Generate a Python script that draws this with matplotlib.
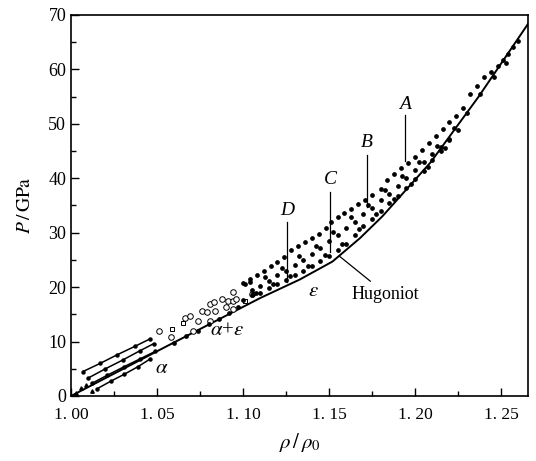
import matplotlib
matplotlib.use("Agg")
import matplotlib.pyplot as plt
from matplotlib.ticker import MultipleLocator, FuncFormatter

plt.rcParams['font.family'] = ['Liberation Serif', 'DejaVu Serif']
plt.rcParams['mathtext.fontset'] = 'stix'

# Hugoniot
hug_rho = [1.000, 1.056, 1.110, 1.133, 1.152, 1.168, 1.181, 1.209, 1.237, 1.266]
hug_p = [0.0, 9.2, 18.0, 21.4, 24.7, 29.0, 33.0, 42.9, 55.0, 68.5]

# alpha phase: four short release lines
a1_rho = [1.007, 1.017, 1.027, 1.037, 1.046]
a1_p = [4.5, 6.0, 7.6, 9.1, 10.5]
a2_rho = [1.010, 1.020, 1.030, 1.040, 1.048]
a2_p = [3.3, 5.0, 6.6, 8.3, 9.6]
a3_rho = [1.012, 1.021, 1.031, 1.040, 1.049]
a3_p = [2.3, 3.8, 5.4, 6.8, 8.2]
a4_rho = [1.015, 1.023, 1.031, 1.039, 1.046]
a4_p = [1.3, 2.7, 4.0, 5.4, 6.8]
a_extra_rho = [1.003, 1.006, 1.009, 1.012]
a_extra_p = [0.6, 1.5, 2.0, 0.9]

# mixed phase: open circles and squares
circ_rho = [1.051, 1.058, 1.066, 1.069, 1.071, 1.074, 1.076, 1.079, 1.081, 1.081,
            1.083, 1.084, 1.088, 1.090, 1.091, 1.094, 1.094, 1.094, 1.096, 1.105]
circ_p = [11.9, 10.8, 14.3, 14.7, 11.9, 13.7, 15.6, 15.4, 16.9, 13.7,
          17.2, 15.6, 17.8, 16.3, 17.4, 17.4, 19.1, 15.9, 17.8, 18.7]
sq_rho = [1.059, 1.065, 1.101]
sq_p = [12.3, 13.4, 17.4]

# filled dots on the Hugoniot in the mixed region
mix_rho = [1.060, 1.067, 1.074, 1.080, 1.086, 1.092, 1.097, 1.101, 1.104, 1.106]
mix_p = [9.8, 11.0, 12.0, 13.2, 14.2, 15.3, 16.3, 20.5, 21.0, 18.7]

# epsilon phase: bands of dots
up_rho = [1.100, 1.104, 1.108, 1.112, 1.116, 1.120, 1.124, 1.128, 1.132, 1.136,
          1.140, 1.144, 1.148, 1.151, 1.155, 1.159, 1.163, 1.167, 1.171, 1.175,
          1.180, 1.184, 1.188, 1.192, 1.196, 1.200, 1.204, 1.208, 1.212, 1.216,
          1.220, 1.224, 1.228, 1.232, 1.236, 1.240, 1.244, 1.248, 1.251, 1.254,
          1.257, 1.260]
up_p = [20.8, 21.5, 22.3, 23.0, 23.8, 24.6, 25.6, 26.8, 27.5, 28.3,
        29.0, 29.8, 30.8, 32.0, 32.8, 33.6, 34.4, 35.2, 36.0, 37.0,
        38.0, 39.6, 40.8, 41.8, 42.8, 44.0, 45.2, 46.5, 47.8, 49.0,
        50.3, 51.5, 53.0, 55.5, 57.0, 58.6, 59.5, 60.6, 61.8, 62.8,
        64.2, 65.3]
upmid_rho = [1.1125, 1.1225, 1.1325, 1.1425, 1.1525, 1.1625, 1.1725, 1.1825,
             1.1925, 1.2025, 1.2125, 1.2225, 1.2300, 1.2380, 1.2460, 1.2530]
upmid_p = [21.8, 23.6, 25.8, 27.6, 30.2, 32.8, 35.0, 37.9,
           40.4, 43.0, 46.0, 49.2, 52.0, 55.5, 58.6, 61.2]
mid_rho = [1.105, 1.110, 1.115, 1.120, 1.125, 1.130, 1.135, 1.140, 1.145, 1.150,
           1.155, 1.160, 1.165, 1.170, 1.175, 1.180, 1.185, 1.190, 1.195, 1.200,
           1.205, 1.210, 1.215, 1.220, 1.225]
mid_p = [19.5, 20.3, 21.2, 22.2, 23.0, 24.0, 25.0, 26.0, 27.2, 28.4,
         29.6, 30.8, 32.0, 33.4, 34.6, 36.0, 37.2, 38.6, 40.0, 41.5,
         43.0, 44.4, 45.8, 47.2, 48.8]
midlow_rho = [1.1075, 1.1175, 1.1275, 1.1375, 1.1475, 1.1575, 1.1675, 1.1775,
              1.1875, 1.1975, 1.2075, 1.2175]
midlow_p = [19.0, 20.5, 22.0, 23.8, 25.9, 28.0, 30.6, 33.5,
            36.2, 39.0, 42.0, 45.5]
low_rho = [1.100, 1.105, 1.110, 1.115, 1.120, 1.125, 1.130, 1.135, 1.140, 1.145,
           1.150, 1.155, 1.160, 1.165, 1.170, 1.175, 1.180, 1.185, 1.190, 1.195,
           1.200, 1.205, 1.210, 1.215, 1.220]
low_p = [17.6, 18.5, 19.0, 19.8, 20.6, 21.4, 22.2, 23.0, 23.9, 24.8,
         25.7, 26.8, 28.0, 29.6, 31.2, 32.6, 34.0, 35.4, 36.8, 38.2,
         39.8, 41.4, 43.4, 45.0, 47.0]

# labelled leader lines: name, rho, text P, line top, line bottom
lab_names = ['A', 'B', 'C', 'D']
lab_rho = [1.194, 1.172, 1.1506, 1.1256]
lab_text_p = [53.5, 46.5, 39.8, 34.0]
lab_top = [51.7, 44.3, 37.5, 32.0]
lab_bot = [43.1, 34.8, 26.5, 21.0]

fig = plt.figure(figsize=(5.36, 4.61), dpi=100)
ax = fig.add_axes([0.1325, 0.141, 0.8526, 0.8265])

ax.plot(hug_rho, hug_p, color='black', lw=1.4)

for r, p in [(a1_rho, a1_p), (a2_rho, a2_p), (a3_rho, a3_p), (a4_rho, a4_p)]:
    ax.plot(r, p, color='black', lw=1.1, marker='o', ms=2.2)
ax.plot(a_extra_rho, a_extra_p, 'k^', ms=2.5, ls='none')

ax.plot(circ_rho, circ_p, 'o', ms=4, mfc='white', mec='black', mew=0.7, ls='none')
ax.plot(sq_rho, sq_p, 's', ms=3.5, mfc='white', mec='black', mew=0.7, ls='none')
ax.plot(mix_rho, mix_p, 'ko', ms=2.4, ls='none')

for r, p in [(up_rho, up_p), (upmid_rho, upmid_p), (mid_rho, mid_p),
             (midlow_rho, midlow_p), (low_rho, low_p)]:
    ax.plot(r, p, 'ko', ms=2.4, ls='none')

for name, r, tp, top, bot in zip(lab_names, lab_rho, lab_text_p, lab_top, lab_bot):
    ax.plot([r, r], [top, bot], color='black', lw=0.9)
    ax.text(r, tp, name, ha='center', va='center', fontsize=14, style='italic')

ax.plot([1.156, 1.174], [25.7, 21.1], color='black', lw=0.9)
ax.text(1.183, 18.6, 'Hugoniot', ha='center', va='center', fontsize=13)
ax.text(1.141, 19.2, r'$\varepsilon$', ha='center', va='center', fontsize=15)
ax.text(1.091, 12.0, r'$\alpha$+$\varepsilon$', ha='center', va='center', fontsize=15)
ax.text(1.053, 5.0, r'$\alpha$', ha='center', va='center', fontsize=15)

ax.set_xlim(1.0, 1.2657)
ax.set_ylim(0, 70)
ax.xaxis.set_major_locator(MultipleLocator(0.05))
ax.xaxis.set_minor_locator(MultipleLocator(0.025))
ax.yaxis.set_major_locator(MultipleLocator(10))
ax.yaxis.set_minor_locator(MultipleLocator(5))
ax.xaxis.set_major_formatter(FuncFormatter(lambda v, pos: f"{v:.2f}".replace('.', '. ')))
ax.tick_params(which='both', direction='in', top=False, right=False, labelsize=13)
ax.tick_params(which='major', length=6, width=1)
ax.tick_params(which='minor', length=3.5, width=1)
ax.tick_params(axis='x', pad=8, labelsize=12.5)
for s in ax.spines.values():
    s.set_linewidth(1.2)

ax.set_xlabel(r'$\rho\,/\,\rho_0$', fontsize=15, labelpad=6)
ax.set_ylabel(r'$P\,/\,\mathrm{GPa}$', fontsize=14, labelpad=10)

fig.savefig('out.png', dpi=100)
